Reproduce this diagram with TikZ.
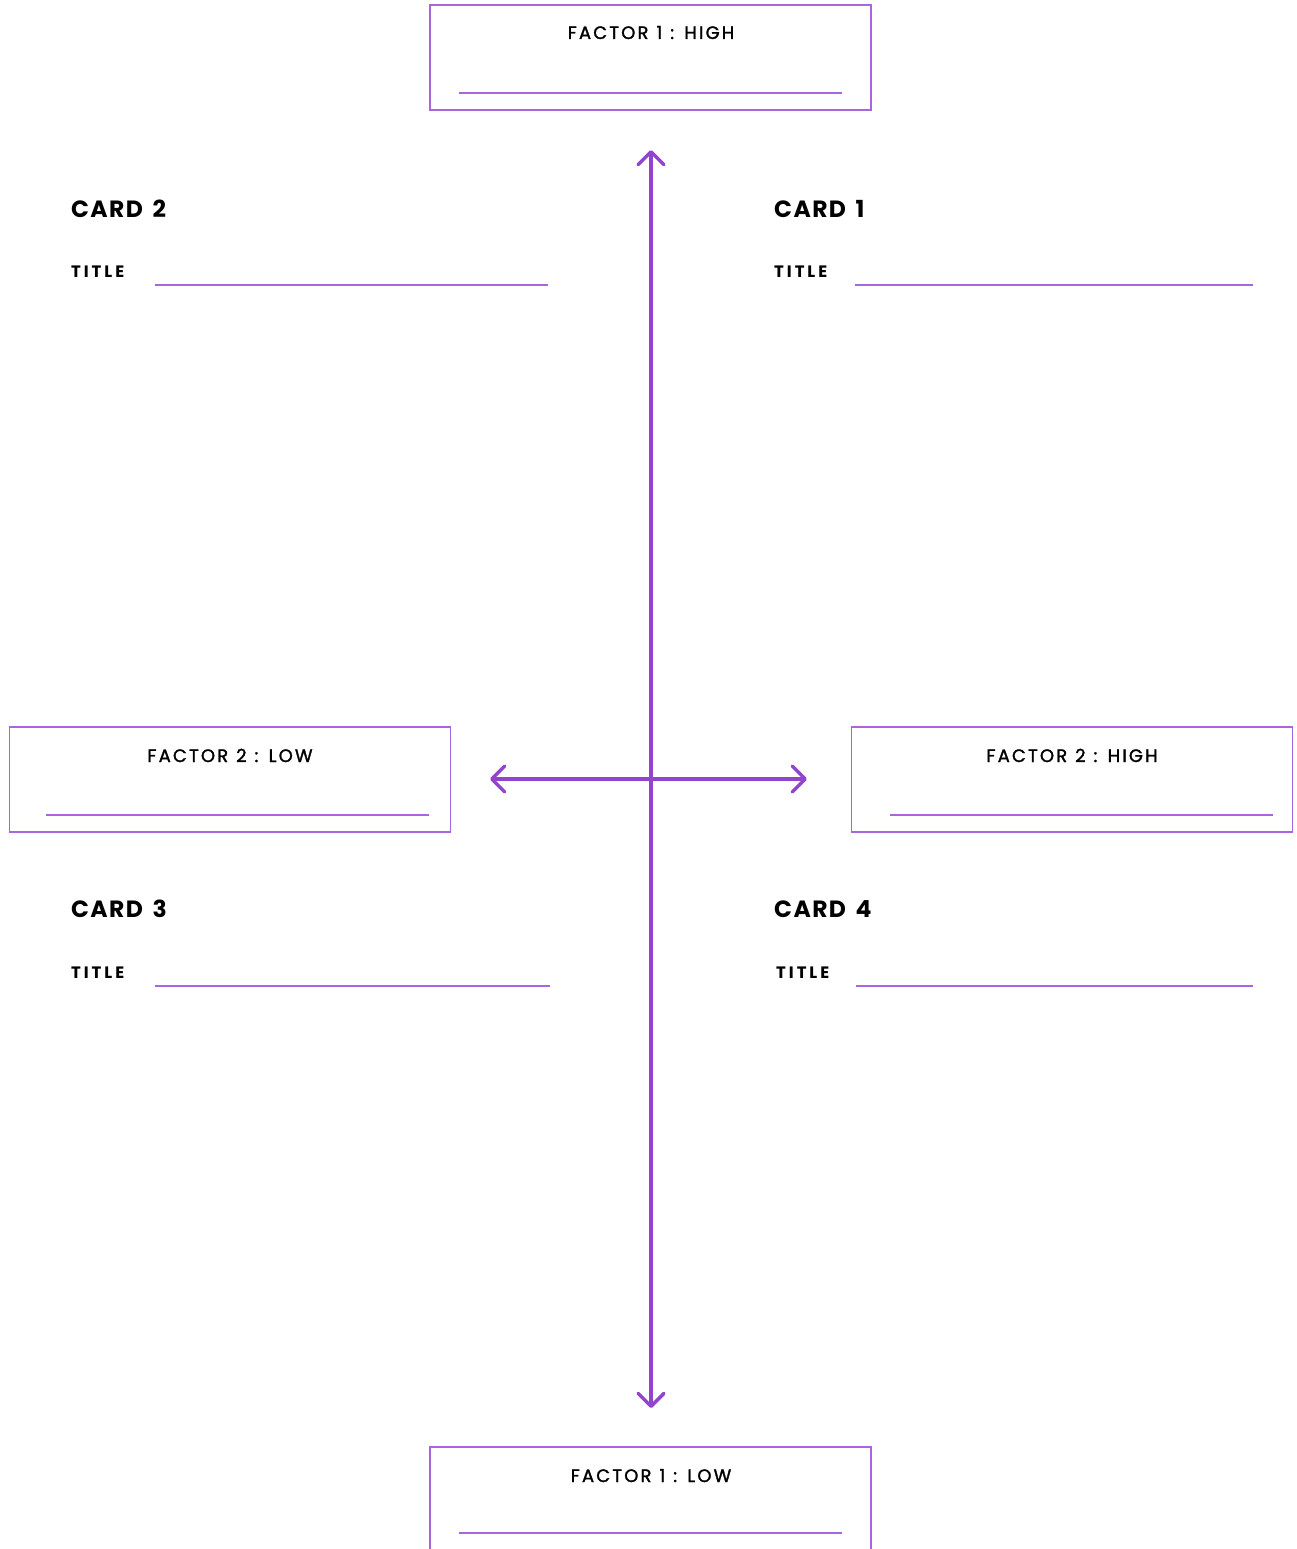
\documentclass[tikz,border=0pt]{standalone}
\usepackage{fontspec}
\setmainfont{Poppins}
\usetikzlibrary{arrows.meta}
\definecolor{axis}{HTML}{9244CC}
\definecolor{frame}{HTML}{A866DE}
\newfontfamily\labelfont[LetterSpace=12,WordSpace=1.15,FakeBold=1.5]{Poppins}
\newfontfamily\titlefont[LetterSpace=18]{Poppins}
\newfontfamily\cardfont[LetterSpace=6,WordSpace=1.5]{Poppins}
\begin{document}
\begin{tikzpicture}[x=1pt,y=-1pt,
  factorbox/.style={draw=frame,line width=1.5pt,minimum width=441pt,minimum height=105pt,inner sep=0pt},
  factortext/.style={anchor=base,inner sep=0pt,font=\labelfont\fontsize{18}{20}\selectfont},
  cardtext/.style={anchor=base west,inner sep=0pt,font=\cardfont\bfseries\fontsize{23.5}{26}\selectfont},
  titletext/.style={anchor=base west,inner sep=0pt,font=\titlefont\bfseries\fontsize{16.5}{19}\selectfont},
  fillline/.style={draw=frame,line width=1.5pt},
  axisline/.style={draw=axis,line width=3.5pt,line cap=round,
    {Straight Barb[length=13pt,width=26pt,line cap=round,line join=round]}-{Straight Barb[length=13pt,width=26pt,line cap=round,line join=round]}}]
\clip (0,0) rectangle (1296,1549);
\fill[white] (0,0) rectangle (1296,1549);

% factor boxes
\node[factorbox] (f1high) at (650.5,57.5) {};
\node[factorbox] (f2low) at (230,779.5) {};
\node[factorbox] (f2high) at (1072,779.5) {};
\node[factorbox] (f1low) at (650.5,1499.5) {};

\node[factortext] (t1high) at (651,39) {FACTOR 1 : HIGH};
\node[factortext] (t2low) at (230,762) {FACTOR 2 : LOW};
\node[factortext] (t2high) at (1072,762) {FACTOR 2 : HIGH};
\node[factortext] (t1low) at (651,1482) {FACTOR 1 : LOW};

\draw[fillline] (459,93) -- (842,93);
\draw[fillline] (46,815) -- (429,815);
\draw[fillline] (890,815) -- (1273,815);
\draw[fillline] (459,1533) -- (842,1533);

% axes
\coordinate (top) at (651,150);
\coordinate (bottom) at (651,1408);
\coordinate (left) at (490,779);
\coordinate (right) at (807,779);
\draw[axisline] (bottom) -- (top);
\draw[axisline] (left) -- (right);

% cards
\node[cardtext] (c2) at (71,218) {CARD 2};
\node[cardtext] (c1) at (774,218) {CARD 1};
\node[cardtext] (c3) at (71,917) {CARD 3};
\node[cardtext] (c4) at (774,917) {CARD 4};

\node[titletext] (ti2) at (71,277) {TITLE};
\node[titletext] (ti1) at (774,277) {TITLE};
\node[titletext] (ti3) at (71,978) {TITLE};
\node[titletext] (ti4) at (776,978) {TITLE};

\draw[fillline] (155,285) -- (548,285);
\draw[fillline] (855,285) -- (1253,285);
\draw[fillline] (155,986) -- (550,986);
\draw[fillline] (856,986) -- (1253,986);
\end{tikzpicture}
\end{document}
